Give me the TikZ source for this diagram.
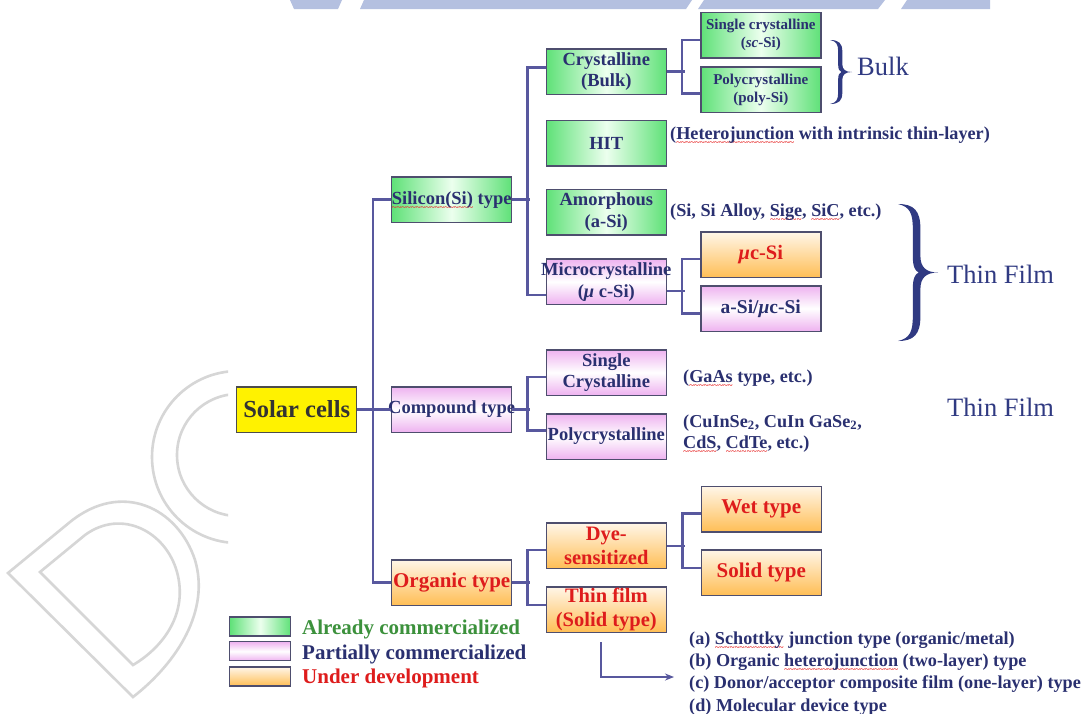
\documentclass[tikz,border=0pt]{standalone}
\usepackage{fontspec}
\setmainfont{Liberation Serif}
\usetikzlibrary{arrows.meta}

\definecolor{navy}{RGB}{42,48,112}
\definecolor{wire}{RGB}{88,88,158}
\definecolor{edge}{RGB}{78,78,110}
\definecolor{warn}{RGB}{222,28,28}
\definecolor{leafgreen}{RGB}{60,145,60}
\definecolor{grnA}{RGB}{95,225,120}
\definecolor{grnB}{RGB}{236,255,238}
\definecolor{pnkA}{RGB}{238,178,240}
\definecolor{orgA}{RGB}{255,190,85}
\definecolor{orgB}{RGB}{255,246,232}
\definecolor{braceblue}{RGB}{48,58,130}
\definecolor{wmgray}{RGB}{214,214,214}
\definecolor{wmblue}{RGB}{180,192,224}
\definecolor{squig}{RGB}{232,50,50}

% red wavy spell-check underline, built from a row of small tildes
\newcommand\spellmark[1]{\setbox0=\hbox{#1}\leavevmode
  \rlap{\raisebox{-6pt}[0pt][0pt]{\hbox to \wd0{\color{squig}\bfseries
    \xleaders\hbox{\fontsize{9}{9}\selectfont\char"7E}\hfil}}}\box0\relax}

% a centred line that may spill over the edges of its box
\newcommand\fitline[1]{\makebox[116pt]{#1}}

\newcommand\fs[1]{\fontsize{#1}{1.18\dimexpr#1pt\relax}\selectfont}

% calligraphic right brace: top-left corner (#1,#2), width #3, height #4
\newcommand\bigbrace[4]{%
  \begin{scope}[shift={(#1,#2)},xscale=#3,yscale=#4]
    \fill[braceblue]
      (0,0) .. controls (0.4,0) and (0.56,0.05) .. (0.56,0.18)
      -- (0.56,0.38) .. controls (0.56,0.46) and (0.7,0.5) .. (1,0.5)
      .. controls (0.7,0.5) and (0.56,0.54) .. (0.56,0.62)
      -- (0.56,0.82) .. controls (0.56,0.95) and (0.4,1) .. (0,1)
      .. controls (0.3,0.98) and (0.37,0.93) .. (0.37,0.82)
      -- (0.37,0.62) .. controls (0.37,0.54) and (0.43,0.51) .. (0.52,0.5)
      .. controls (0.43,0.49) and (0.37,0.46) .. (0.37,0.38)
      -- (0.37,0.18) .. controls (0.37,0.07) and (0.3,0.02) .. (0,0) -- cycle;
  \end{scope}}

\tikzset{
  wire/.style={draw=wire,line width=2.6pt},
  cell/.style={draw=edge,line width=1.5pt,rectangle,minimum width=120pt,
    minimum height=45.5pt,inner sep=0pt,align=center,text=navy,
    font=\bfseries\fs{18.5}},
  smallcell/.style={cell,font=\bfseries\fs{15}},
  ripe/.style={left color=grnA,right color=grnA,middle color=grnB},
  partial/.style={top color=pnkA,bottom color=pnkA,middle color=white},
  devel/.style={top color=orgB,bottom color=orgA},
  hot/.style={text=warn,font=\bfseries\fs{20.5}},
  note/.style={anchor=base west,inner sep=0pt,text=navy,
    font=\bfseries\fs{18.2}},
  group/.style={anchor=base west,inner sep=0pt,text=braceblue,font=\fs{26.5}},
  key/.style={draw=edge,line width=1.3pt,minimum width=61pt,minimum height=19pt,inner sep=0pt},
  keytext/.style={anchor=base west,inner sep=0pt,font=\bfseries\fs{21}},
}

\begin{document}
\begin{tikzpicture}[x=1pt,y=-1pt]
\useasboundingbox (0,0) rectangle (1083,713);
\fill[white] (0,0) rectangle (1083,713);

% faint background lettering
\fill[wmblue] (290,0) -- (342,0) -- (338,9) -- (294,9) -- cycle;
\fill[wmblue] (364,0) -- (692,0) -- (686,9) -- (360,9) -- cycle;
\fill[wmblue] (704,0) -- (885,0) -- (878,9) -- (698,9) -- cycle;
\fill[wmblue] (907,0) -- (990,0) -- (990,9) -- (901,9) -- cycle;
\begin{scope}[draw=wmgray,line width=2.6pt]
  \begin{scope}
    \clip (0,300) rectangle (228,713);
    \draw (238,457) circle [radius=86pt];
    \draw (238,455) circle [radius=61pt];
  \end{scope}
  \draw (8,573) -- (70,522) .. controls (122,480) and (178,508) .. (195,560)
        .. controls (210,610) and (178,662) .. (133,697) -- cycle;
  \draw (40,572) -- (85,535) .. controls (122,508) and (166,532) .. (177,572)
        .. controls (188,612) and (165,646) .. (133,665) -- cycle;
\end{scope}

% root and first level
\node[cell,fill=yellow,draw=black!70,text=black!80,font=\bfseries\fs{24.5}] (solar) at (296.7,409.5) {Solar cells};
\node[cell,ripe] (si) at (451.7,199.7) {\fitline{\spellmark{Silicon(Si)} type}};
\node[cell,partial] (comp) at (451.7,409.5) {\fitline{Compound type}};
\node[cell,devel,hot,font=\bfseries\fs{21}] (org) at (451.7,582.5) {\fitline{Organic type}};

% silicon branch
\node[cell,ripe] (cryst) at (606.3,71.5) {Crystalline\\(Bulk)};
\node[cell,ripe] (hit) at (606.3,143) {HIT};
\node[cell,ripe] (amor) at (606.3,212) {Amorphous\\(a-Si)};
\node[cell,partial] (micro) at (606.3,281.7) {\fitline{Microcrystalline}\\(\textit{μ} c-Si)};
\node[smallcell,ripe] (sc) at (760.8,35) {Single crystalline\\(\textit{sc}-Si)};
\node[smallcell,ripe] (poly) at (760.8,89.8) {Polycrystalline\\(poly-Si)};
\node[cell,devel,hot] (muc) at (760.8,254.8) {\textit{μ}c-Si};
\node[cell,partial,font=\bfseries\fs{19.5}] (asimuc) at (760.8,308.5) {a-Si/\textit{μ}c-Si};

% compound branch
\node[cell,partial] (scomp) at (606.3,372.5) {Single\\Crystalline};
\node[cell,partial] (pcomp) at (606.3,436.5) {\fitline{Polycrystalline}};

% organic branch
\node[cell,devel,hot] (dye) at (606.3,545.8) {Dye-\\sensitized};
\node[cell,devel,hot] (tf) at (606.3,609.5) {Thin film\\(Solid type)};
\node[cell,devel,hot,font=\bfseries\fs{21}] (wet) at (761.3,509.2) {Wet type};
\node[cell,devel,hot,font=\bfseries\fs{21}] (solid) at (761.3,572.5) {Solid type};

% connectors
\draw[wire] (solar.east) -- (comp.west);
\draw[wire] (si.west) -- ++(-18,0) |- (org.west);
\draw[wire] (si.east) -- ++(17.5,0);
\draw[wire] ([yshift=4pt]cryst.west) -- ++(-18,0) |- ([yshift=-13.3pt]micro.west);
\draw[wire] (cryst.east) -- ++(17.5,0);
\draw[wire] ([yshift=-5pt]sc.west) -- ++(-18,0) |- ([yshift=-3.5pt]poly.west);
\draw[wire] ([yshift=-9.3pt]micro.east) -- ++(17.5,0);
\draw[wire] ([yshift=-4.2pt]muc.west) -- ++(-18,0) |- ([yshift=-4.8pt]asimuc.west);
\draw[wire] (comp.east) -- ++(17.5,0);
\draw[wire] ([yshift=-4.5pt]scomp.west) -- ++(-18,0) |- ([yshift=6pt]pcomp.west);
\draw[wire] (org.east) -- ++(17.5,0);
\draw[wire] ([yshift=-4pt]dye.west) -- ++(-18,0) |- ([yshift=4.5pt]tf.west);
\draw[wire] (dye.east) -- ++(17.5,0);
\draw[wire] ([yshift=-4pt]wet.west) -- ++(-18,0) |- ([yshift=4.5pt]solid.west);

% annotations
\node[note] (hitnote) at (670,139) {(\spellmark{Heterojunction} with intrinsic thin-layer)};
\node[note] (amornote) at (670,216) {(Si, Si Alloy, \spellmark{Sige}, \spellmark{SiC}, etc.)};
\node[note] (gaasnote) at (683,382) {(\spellmark{GaAs} type, etc.)};
\node[note] (cuA) at (683,427) {(CuInSe\textsubscript{2}, CuIn GaSe\textsubscript{2},};
\node[note] (cuB) at (683,448) {\spellmark{CdS}, \spellmark{CdTe}, etc.)};
\node[note] (kindA) at (689,644) {(a) \spellmark{Schottky} junction type (organic/metal)};
\node[note] (kindB) at (689,666.3) {(b) Organic \spellmark{heterojunction} (two-layer) type};
\node[note] (kindC) at (689,688.6) {(c) Donor/acceptor composite film (one-layer) type};
\node[note] (kindD) at (689,711) {(d) Molecular device type};
\coordinate (turn) at ([xshift=-5pt,yshift=-9pt]tf.south);
\coordinate (arrowend) at (674,677);
\draw[draw=wire,line width=2pt,-{Stealth[length=9pt,width=7pt]}] (turn) |- (arrowend);

% group braces
\bigbrace{830}{40}{22}{64}
\node[group] (bulk) at (857,75) {Bulk};
\bigbrace{898}{204}{40}{137}
\node[group] (thin1) at (947,283.5) {Thin Film};
\node[group] (thin2) at (947,416.7) {Thin Film};

% legend
\node[key,ripe] (k1) at (260.3,626.5) {};
\node[key,partial] (k2) at (260.3,651.3) {};
\node[key,devel] (k3) at (260.3,676.5) {};
\node[keytext,text=leafgreen] (t1) at (302,634) {Already commercialized};
\node[keytext,text=navy] (t2) at (302,659) {Partially commercialized};
\node[keytext,text=warn] (t3) at (302,683) {Under development};
\end{tikzpicture}
\end{document}
